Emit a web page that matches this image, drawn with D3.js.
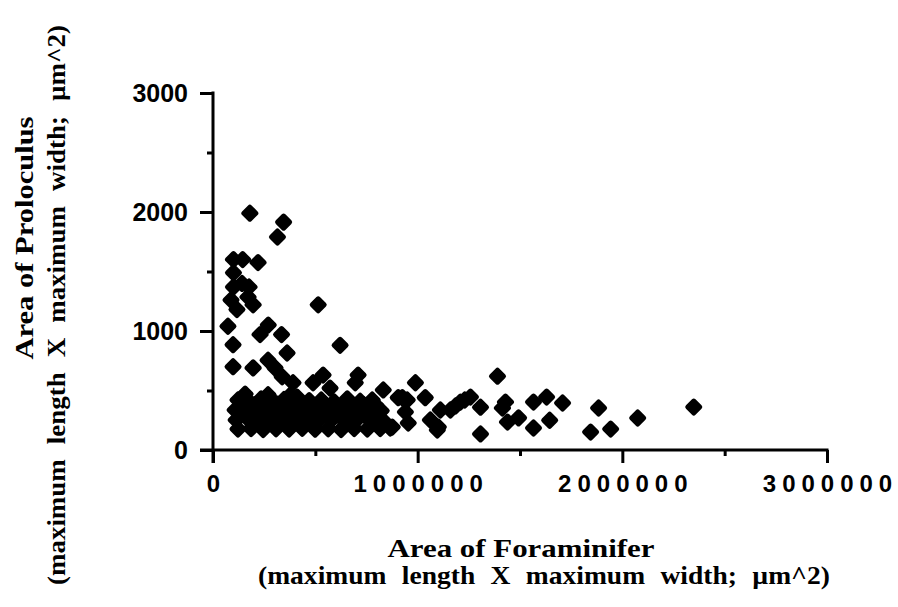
<!DOCTYPE html>
<html>
<head>
<meta charset="utf-8">
<script src="https://cdn.jsdelivr.net/npm/d3@7"></script>
<style>
  body { margin: 0; background: #fff; }
  svg { display: block; }
</style>
</head>
<body>
<div id="chart"></div>
<script>
// Foraminifer area (x) and proloculus area (y)
const foramArea = [
  180000, 345000, 315000, 100000, 145000, 220000, 100000, 100000, 142000, 176000,
  88000, 117000, 171000, 196000, 514000, 73000, 270000, 98000, 98000, 230000,
  335000, 362000, 196000, 269000, 303000, 338000, 391000, 411000, 621000, 538000,
  489000, 572000, 709000, 695000, 832000, 905000, 989000, 925000, 1037000, 866000,
  954000, 940000, 800000, 1390000, 1307000, 1307000, 1429000, 1414000, 1439000, 1493000,
  1566000, 1630000, 1566000, 1645000, 1062000, 1101000, 1111000, 1160000, 1209000, 1258000,
  1708000, 1884000, 1845000, 1943000, 2075000, 2349000, 949000, 1096000, 876000, 1185000,
  1230000,
  // dense band
  122000, 176000, 235000, 294000, 347000, 406000, 470000, 529000, 592000, 656000, 719000, 778000,
  108000, 161000, 220000, 279000, 338000, 396000, 455000, 514000, 573000, 636000, 700000, 763000, 822000,
  113000, 171000, 225000, 284000, 343000, 401000, 460000, 519000, 577000, 641000, 705000, 768000, 832000,
  122000, 186000, 245000, 308000, 372000, 436000, 499000, 563000, 626000, 690000, 754000, 817000,
  157000, 269000, 377000,
  140000, 200000, 255000, 315000, 370000, 430000, 490000, 545000, 605000, 665000, 735000, 795000,
  135000, 195000, 258000, 320000, 385000, 445000, 510000, 570000, 610000, 675000, 740000, 800000
];
const prolocArea = [
  1990, 1915, 1790, 1600, 1600, 1575, 1490, 1370, 1400, 1370,
  1260, 1180, 1285, 1220, 1220, 1040, 1050, 885, 700, 970,
  970, 815, 690, 755, 690, 615, 565, 445, 880, 630,
  565, 520, 630, 565, 505, 440, 565, 440, 440, 185,
  227, 320, 252, 620, 360, 135, 403, 353, 235, 270,
  403, 445, 185, 250, 252, 193, 336, 336, 403, 445,
  395, 353, 151, 176, 269, 361, 420, 168, 193, 370,
  420,
  420, 405, 430, 410, 425, 400, 415, 420, 405, 430, 410, 420,
  336, 330, 345, 335, 330, 340, 325, 336, 345, 330, 340, 335, 330,
  252, 260, 245, 255, 250, 262, 248, 255, 250, 245, 258, 250, 245,
  176, 180, 172, 178, 176, 182, 175, 178, 172, 180, 176, 180,
  470, 465, 460,
  375, 380, 370, 385, 372, 378, 368, 380, 375, 370, 382, 375,
  292, 298, 290, 295, 300, 288, 295, 292, 298, 290, 295, 290
];
const points = foramArea.map((x, i) => ({ x: x, y: prolocArea[i] }));

const xMajor = [0, 1000000, 2000000, 3000000];
const xMinor = [500000, 1500000, 2500000];
const yMajor = [0, 1000, 2000, 3000];
const yMinor = [500, 1500, 2500];

const width = 898, height = 607;

const svg = d3.select('#chart')
  .append('svg')
  .attr('width', width)
  .attr('height', height);

const x = d3.scaleLinear().domain([0, 3000000]).range([213, 827]);
const y = d3.scaleLinear().domain([0, 3000]).range([450, 93]);

// Points (rounded diamonds)
svg.append('g')
  .selectAll('path')
  .data(points)
  .enter()
  .append('path')
  .attr('d', 'M0,-6L6,0L0,6L-6,0Z')
  .attr('transform', d => `translate(${x(d.x)},${y(d.y)})`)
  .attr('fill', '#000')
  .attr('stroke', '#000')
  .attr('stroke-width', 5)
  .attr('stroke-linejoin', 'round');

// Y axis
const yAxis = svg.append('g').attr('transform', `translate(${x(0)},0)`);
yAxis.call(d3.axisLeft(y).tickValues(yMajor).tickSize(13).tickPadding(12).tickFormat(d3.format('d')));
yAxis.select('.domain').remove();
yAxis.selectAll('line').attr('stroke', '#000').attr('stroke-width', 3);
yAxis.selectAll('text')
  .attr('font-family', 'Liberation Sans, Arial, sans-serif')
  .attr('font-weight', 'bold')
  .attr('font-size', 25)
  .attr('fill', '#000');

const yMinorAxis = svg.append('g').attr('transform', `translate(${x(0)},0)`);
yMinorAxis.call(d3.axisLeft(y).tickValues(yMinor).tickSize(6).tickFormat(''));
yMinorAxis.select('.domain').remove();
yMinorAxis.selectAll('line').attr('stroke', '#000').attr('stroke-width', 3);

// X axis
const xAxis = svg.append('g').attr('transform', `translate(0,${y(0)})`);
xAxis.call(d3.axisBottom(x).tickValues(xMajor).tickSize(13).tickPadding(12).tickFormat(d3.format('d')));
xAxis.select('.domain').remove();
xAxis.selectAll('line').attr('stroke', '#000').attr('stroke-width', 3);
xAxis.selectAll('text')
  .attr('font-family', 'Liberation Sans, Arial, sans-serif')
  .attr('font-weight', 'bold')
  .attr('font-size', 24)
  .attr('letter-spacing', d => d === 0 ? 0 : 6)
  .attr('dx', d => d === 0 ? 0 : 3)
  .attr('fill', '#000');

const xMinorAxis = svg.append('g').attr('transform', `translate(0,${y(0)})`);
xMinorAxis.call(d3.axisBottom(x).tickValues(xMinor).tickSize(6).tickFormat(''));
xMinorAxis.select('.domain').remove();
xMinorAxis.selectAll('line').attr('stroke', '#000').attr('stroke-width', 3);

// Axis lines
svg.append('line')
  .attr('x1', x(0)).attr('x2', x(0))
  .attr('y1', y(3000) - 1.5).attr('y2', y(0) + 13)
  .attr('stroke', '#000').attr('stroke-width', 3);
svg.append('line')
  .attr('x1', x(0) - 13).attr('x2', x(3000000) + 1.5)
  .attr('y1', y(0)).attr('y2', y(0))
  .attr('stroke', '#000').attr('stroke-width', 3);

// Titles
const titleFont = 'Liberation Serif, Times New Roman, serif';

function title(t, len, ws) {
  return svg.append('text')
    .attr('text-anchor', 'middle')
    .attr('font-family', titleFont).attr('font-weight', 'bold').attr('font-size', 26)
    .attr('word-spacing', ws)
    .attr('textLength', len)
    .attr('lengthAdjust', 'spacingAndGlyphs')
    .text(t);
}

title('Area of Foraminifer', 267, 0).attr('x', 521).attr('y', 557);
title('(maximum length X maximum width; \u00b5m^2)', 572, 8).attr('x', 544).attr('y', 584);
title('Area of Proloculus', 243, 0).attr('transform', 'translate(33,238) rotate(-90)');
title('(maximum length X maximum width; \u00b5m^2)', 560, 8).attr('transform', 'translate(65,305) rotate(-90)');
</script>
</body>
</html>
